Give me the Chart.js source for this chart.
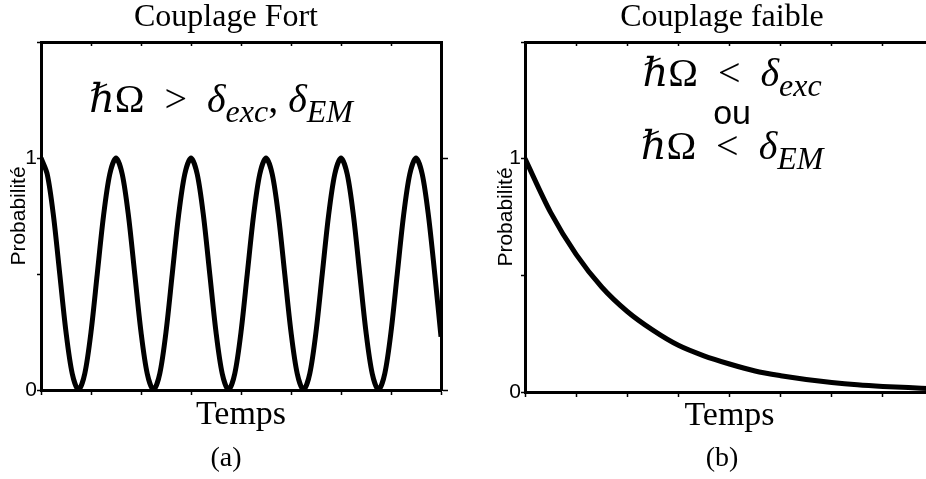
<!DOCTYPE html>
<html lang="fr">
<head>
  <meta charset="UTF-8">
  <title>Couplage fort / Couplage faible</title>
  <style>
    html, body {
      margin: 0;
      padding: 0;
      background: #fff;
      overflow: hidden;
    }
    body {
      position: relative;
      width: 926px;
      height: 479px;
    }
    .panel {
      position: absolute;
      top: 0;
      height: 479px;
    }
    #panelA { left: 0; width: 452px; }
    #panelB { left: 463px; width: 518px; }
  </style>
</head>
<body>
  <div class="panel" id="panelA"><canvas id="chartFort" width="452" height="479"></canvas></div>
  <div class="panel" id="panelB"><canvas id="chartFaible" width="518" height="479"></canvas></div>

  <script src="https://cdn.jsdelivr.net/npm/chart.js"></script>
  <script>
    // Valeurs (temps en unités de graduation, 0..8)
    const tempsFort = [
      0, 0.125, 0.25, 0.375, 0.5, 0.625, 0.75, 0.875, 1, 1.125, 1.25, 1.375,
      1.5, 1.625, 1.75, 1.875, 2, 2.125, 2.25, 2.375, 2.5, 2.625, 2.75, 2.875,
      3, 3.125, 3.25, 3.375, 3.5, 3.625, 3.75, 3.875, 4, 4.125, 4.25, 4.375,
      4.5, 4.625, 4.75, 4.875, 5, 5.125, 5.25, 5.375, 5.5, 5.625, 5.75, 5.875,
      6, 6.125, 6.25, 6.375, 6.5, 6.625, 6.75, 6.875, 7, 7.125, 7.25, 7.375,
      7.5, 7.625, 7.75, 7.875, 8
    ];
    const probaFort = [
      1, 0.93, 0.75, 0.5, 0.25, 0.07, 0, 0.07, 0.25, 0.5, 0.75, 0.93,
      1, 0.93, 0.75, 0.5, 0.25, 0.07, 0, 0.07, 0.25, 0.5, 0.75, 0.93,
      1, 0.93, 0.75, 0.5, 0.25, 0.07, 0, 0.07, 0.25, 0.5, 0.75, 0.93,
      1, 0.93, 0.75, 0.5, 0.25, 0.07, 0, 0.07, 0.25, 0.5, 0.75, 0.93,
      1, 0.93, 0.75, 0.5, 0.25, 0.07, 0, 0.07, 0.25, 0.5, 0.75, 0.93,
      1, 0.93, 0.75, 0.5, 0.23
    ];
    const tempsFaible = [0, 0.5, 1, 1.5, 2, 2.5, 3, 3.5, 4, 4.5, 5, 5.5, 6, 6.5, 7, 7.5, 8];
    const probaFaible = [1, 0.77, 0.59, 0.45, 0.345, 0.265, 0.2, 0.155, 0.12, 0.09, 0.07, 0.054, 0.041, 0.031, 0.024, 0.019, 0.014];
    const ticksEtiquetes = [0, 1];

    // Textes (\u2002 = espace demi-cadratin autour des relations)
    const texteFort = [
      [{ t: 'ℏ', i: true }, { t: 'Ω' }, { t: '\u2002>\u2002' }, { t: 'δ', i: true }, { t: 'exc', i: true, sub: true },
       { t: ', ' }, { t: 'δ', i: true }, { t: 'EM', i: true, sub: true }]
    ];
    const texteFaible = [
      [{ t: 'ℏ', i: true }, { t: 'Ω' }, { t: '\u2002<\u2002' }, { t: 'δ', i: true }, { t: 'exc', i: true, sub: true }],
      [{ t: 'ou', sans: true }],
      [{ t: 'ℏ', i: true }, { t: 'Ω' }, { t: '\u2002<\u2002' }, { t: 'δ', i: true }, { t: 'EM', i: true, sub: true }]
    ];

    const SERIF = "'Liberation Serif', 'DejaVu Serif', serif";
    const SANS = "'Liberation Sans', Arial, sans-serif";
    const NOIR = '#000';

    // dessine les formules au-dessus des courbes
    const mathPlugin = {
      id: 'formules',
      afterDraw(chart, args, opts) {
        const ctx = chart.ctx;
        const x = chart.scales.x, y = chart.scales.y;
        ctx.save();
        ctx.fillStyle = NOIR;
        ctx.textBaseline = 'alphabetic';
        ctx.textAlign = 'left';
        opts.lignes.forEach((ligne, n) => {
          const pos = opts.positions[n];
          const fontOf = s => {
            const size = s.sub ? opts.sousTaille : (s.sans ? opts.sansTaille : opts.taille);
            return (s.i ? 'italic ' : '') + size + 'px ' + (s.sans ? SANS : SERIF);
          };
          let largeur = 0;
          ligne.forEach(s => { ctx.font = fontOf(s); largeur += ctx.measureText(s.t).width; });
          let cx = x.getPixelForValue(pos[0]) - largeur / 2;
          const base = y.getPixelForValue(pos[1]);
          ligne.forEach(s => {
            ctx.font = fontOf(s);
            ctx.fillText(s.t, cx, base + (s.sub ? opts.sousDecalage : 0));
            cx += ctx.measureText(s.t).width;
          });
        });
        ctx.restore();
      }
    };

    const bord = { display: true, color: NOIR, width: 3 };
    const gridTicks = len => ({ drawOnChartArea: false, drawTicks: true, tickLength: len, tickColor: NOIR, tickWidth: 1.5 });

    function tracer(id, temps, proba, o) {
      return new Chart(document.getElementById(id), {
        type: 'line',
        data: {
          datasets: [{
            data: temps.map((t, i) => ({ x: t, y: proba[i] })),
            borderColor: NOIR,
            borderWidth: 5,
            pointRadius: 0,
            tension: 0.3,
            fill: false
          }]
        },
        options: {
          responsive: false,
          animation: false,
          events: [],
          layout: { padding: 0 },
          plugins: {
            legend: { display: false },
            tooltip: { enabled: false },
            title: {
              display: true, text: o.titre, color: NOIR,
              font: { family: SERIF, size: 32, weight: 'normal', lineHeight: 1.1 },
              padding: 0
            },
            subtitle: {
              display: true, position: 'bottom', text: o.lettre, color: NOIR,
              font: { family: SERIF, size: 28, weight: 'normal', lineHeight: 1.2 },
              padding: { top: 0, bottom: 4 }
            },
            formules: o.formules
          },
          scales: {
            x: {
              type: 'linear', position: 'bottom', min: 0, max: 8,
              ticks: { stepSize: 1, display: false },
              grid: gridTicks(5),
              border: bord,
              title: {
                display: true, text: 'Temps', color: NOIR,
                font: { family: SERIF, size: 34, lineHeight: 1.2 },
                padding: { top: 0, bottom: o.tempsPad }
              },
              afterFit: s => { s.height = o.basH; }
            },
            xHaut: {
              type: 'linear', axis: 'x', position: 'top', min: 0, max: 8,
              ticks: { stepSize: 1, display: false },
              grid: gridTicks(-4),
              border: bord,
              afterFit: s => { s.height = 6.8; }
            },
            y: {
              type: 'linear', position: 'left', min: 0, max: 1.5,
              ticks: {
                stepSize: 0.5, color: NOIR, padding: 0,
                font: { family: SANS, size: 21 },
                callback: v => ticksEtiquetes.includes(v) ? String(v) : ''
              },
              grid: gridTicks(4),
              border: bord,
              title: {
                display: true, text: 'Probabilité', color: NOIR,
                font: { family: SANS, size: 21, lineHeight: 1.2 },
                padding: { top: o.probaPad, bottom: 0 }
              },
              afterFit: s => { s.width = o.gaucheW; }
            },
            yDroite: {
              type: 'linear', axis: 'y', position: 'right', min: 0, max: 1.5,
              ticks: { display: false },
              afterBuildTicks: s => { s.ticks = ticksEtiquetes.map(v => ({ value: v })); },
              grid: gridTicks(7),
              border: bord,
              afterFit: s => { s.width = o.droiteW; }
            }
          }
        },
        plugins: [mathPlugin]
      });
    }

    tracer('chartFort', tempsFort, probaFort, {
      titre: 'Couplage Fort', lettre: '(a)',
      basH: 51.4, tempsPad: 6, gaucheW: 41, droiteW: 11, probaPad: 7,
      formules: {
        lignes: texteFort, positions: [[3.6, 1.2]],
        taille: 40, sousTaille: 32, sansTaille: 34, sousDecalage: 10
      }
    });

    tracer('chartFaible', tempsFaible, probaFaible, {
      titre: 'Couplage faible', lettre: '(b)',
      basH: 49.4, tempsPad: 5, gaucheW: 62, droiteW: 47, probaPad: 31,
      formules: {
        lignes: texteFaible, positions: [[4.05, 1.31], [4.05, 1.15], [4.05, 1.0]],
        taille: 40, sousTaille: 32, sansTaille: 34, sousDecalage: 10
      }
    });
  </script>
</body>
</html>
